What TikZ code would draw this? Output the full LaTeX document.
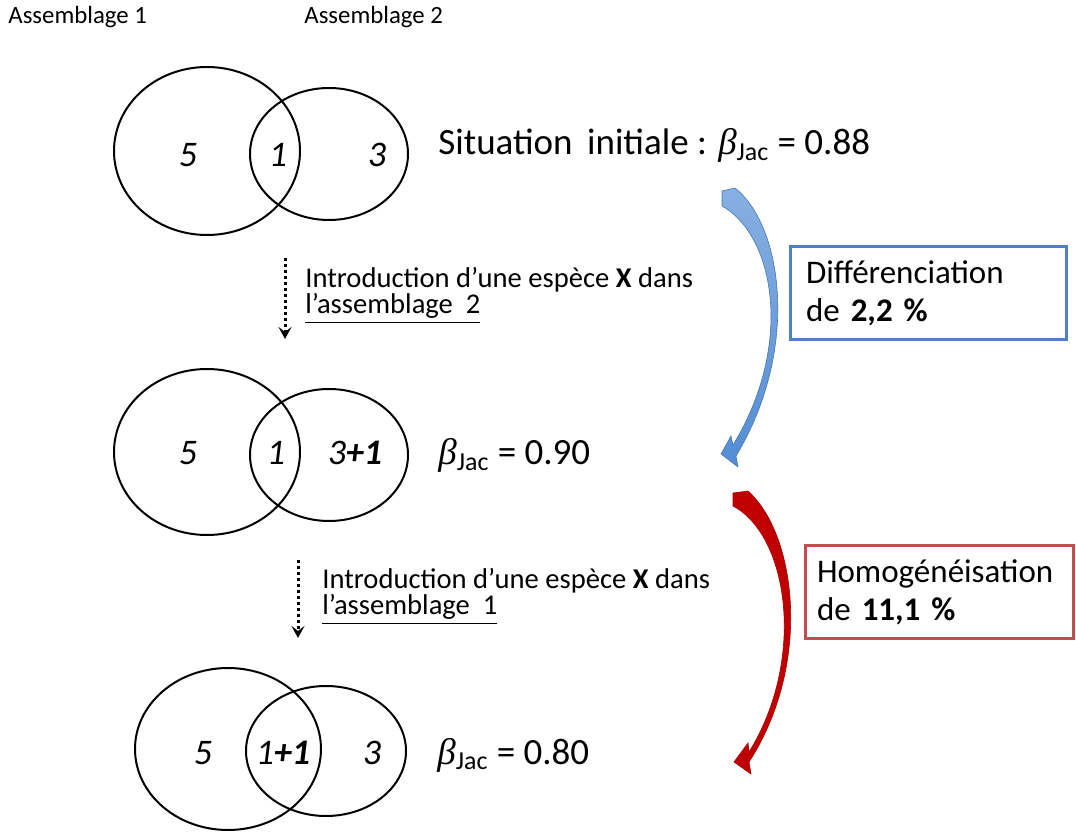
\documentclass[tikz,border=0pt]{standalone}
\usepackage{amsmath}
\usepackage{fontspec}
\setmainfont{Carlito}
\newfontfamily\grkfont{Liberation Serif}
\usetikzlibrary{arrows.meta}
\definecolor{boxblue}{RGB}{79,129,189}
\definecolor{boxred}{RGB}{192,80,77}
\definecolor{arrowblue}{RGB}{84,141,212}
\definecolor{arrowred}{RGB}{192,0,0}
\newcommand{\bjac}{{\grkfont\itshape β}${}_{\text{Jac}}$}

\begin{document}
\begin{tikzpicture}[x=0.5pt,y=-0.5pt,
	venn/.style={line width=1pt},
	digit/.style={anchor=base,font=\fontsize{18}{20}\selectfont\itshape},
	betatext/.style={anchor=base west,inner sep=0pt,font=\fontsize{18.5}{20}\selectfont},
	intro/.style={anchor=base west,inner sep=0pt,font=\fontsize{14.3}{16}\selectfont},
	assemb/.style={anchor=base west,inner sep=0pt,font=\fontsize{12.4}{14}\selectfont},
	result/.style={draw,line width=1.5pt,minimum height=46.5pt,text width=122pt,inner sep=0pt,align=left,font=\fontsize{16.5}{19}\selectfont},
	dotarrow/.style={line width=1.5pt,dash pattern=on 1.5pt off 1.5pt,-{Stealth[length=6pt,width=6.5pt,inset=2.5pt]}}]
	\useasboundingbox (0,0) rectangle (1076,838);
	% titres des assemblages
	\node[assemb] (ass1) at (8,24) {Assemblage 1};
	\node[assemb] (ass2) at (304,24) {Assemblage 2};
	% situation initiale
	\draw[venn] (207,151) ellipse [x radius=93, y radius=84];
	\draw[venn] (329,154) ellipse [x radius=79, y radius=66];
	\node[digit] (a5) at (188,167) {5};
	\node[digit] (a1) at (278,167) {1};
	\node[digit] (a3) at (377,167) {3};
	\node[betatext] (beta1) at (438,155) {Situation\, initiale : \bjac{} = 0.88};
	% introduction dans l'assemblage 2
	\coordinate (da1) at (285,258);
	\coordinate (db1) at (285,339);
	\draw[dotarrow] (da1) -- (db1);
	\node[intro] (intro1a) at (305,288) {Introduction d’une espèce \textbf{X} dans};
	\node[intro] (intro1b) at ([yshift=-12.8pt]intro1a.base west) {\underline{l’assemblage~~2}};
	% deuxieme situation
	\draw[venn] (207,452) ellipse [x radius=93, y radius=83];
	\draw[venn] (329,455) ellipse [x radius=79, y radius=66];
	\node[digit] (b5) at (188,465) {5};
	\node[digit] (b1) at (276,465) {1};
	\node[digit] (b3) at (355,465) {3\textbf{+1}};
	\node[betatext] (beta2) at (438,465) {\bjac{} = 0.90};
	% introduction dans l'assemblage 1
	\coordinate (da2) at (298,560);
	\coordinate (db2) at (298,638);
	\draw[dotarrow] (da2) -- (db2);
	\node[intro] (intro2a) at (322,589) {Introduction d’une espèce \textbf{X} dans};
	\node[intro] (intro2b) at ([yshift=-12.8pt]intro2a.base west) {\underline{l’assemblage~~1}};
	% troisieme situation
	\draw[venn] (228,749) ellipse [x radius=93, y radius=81];
	\draw[venn] (326,751) ellipse [x radius=80, y radius=65];
	\node[digit] (c5) at (203,764) {5};
	\node[digit] (c1) at (283,764) {1\textbf{+1}};
	\node[digit] (c3) at (372,764) {3};
	\node[betatext] (beta3) at (437,764) {\bjac{} = 0.80};
	% fleches courbes
	\path[top color=arrowblue!70!white,bottom color=arrowblue,draw=arrowblue!85!black,line width=0.3pt] (722,191) -- (735,188)
		.. controls (783,226) and (800,350) .. (736,456) -- (738,467) -- (721,454) -- (731,436) -- (733,445)
		.. controls (794,345) and (775,236) .. (722,206) -- cycle;
	\path[fill=arrowred,draw=arrowred!85!black,line width=0.3pt] (733,493) -- (748,491)
		.. controls (797,535) and (812,665) .. (749,762) -- (751,774) -- (734,762) -- (748,743) -- (749,752)
		.. controls (806,660) and (789,536) .. (733,506) -- cycle;
	% encadres
	\node[result,draw=boxblue,minimum width=138pt] (diff) at (928,293.5) {Différenciation\\de \textbf{2,2 \%}};
	\node[result,draw=boxred,minimum width=134pt] (homog) at (939,592.5) {Homogénéisation\\de \textbf{11,1 \%}};
\end{tikzpicture}
\end{document}
